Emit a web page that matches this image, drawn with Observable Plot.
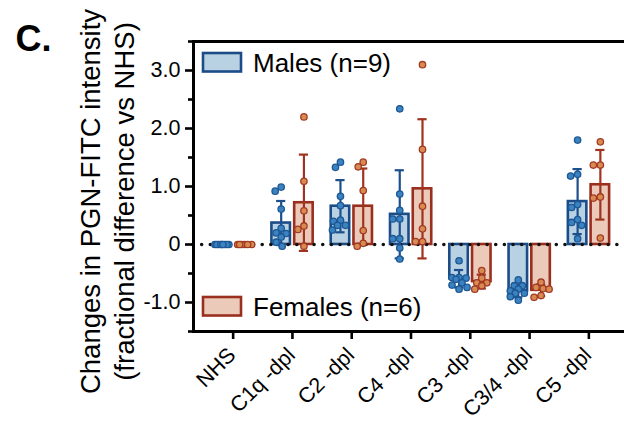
<!DOCTYPE html>
<html><head><meta charset="utf-8">
<script src="https://cdn.jsdelivr.net/npm/d3@7"></script>
<script src="https://cdn.jsdelivr.net/npm/@observablehq/plot@0.6"></script>
<style>
html,body{margin:0;padding:0;background:#fff;}
#chart svg{display:block;font-family:"Liberation Sans",Arial,Helvetica,sans-serif;}
</style>
</head><body><div id="chart"></div>
<script>
const categories = ["NHS", "C1q -dpl", "C2 -dpl", "C4 -dpl", "C3 -dpl", "C3/4 -dpl", "C5 -dpl"];
const maleMeans   = [0, 0.37, 0.66, 0.52, -0.59, -0.80, 0.74];
const maleSD      = [0, 0.38, 0.45, 0.76, 0.15, 0.11, 0.56];
const femaleMeans = [0, 0.72, 0.66, 0.96, -0.64, -0.79, 1.03];
const femaleSD    = [0, 0.83, 0.65, 1.20, 0.12, 0.10, 0.60];
const malePoints = [
  [0, 0, 0, 0, 0, 0, 0, 0, 0],
  [0.99, 0.92, 0.61, 0.28, 0.20, 0.19, 0.13, 0.04, -0.03],
  [1.42, 1.33, 0.83, 0.67, 0.42, 0.40, 0.33, 0.33, 0.25],
  [2.34, 0.87, 0.59, 0.44, 0.44, 0.10, 0.10, -0.06, -0.25],
  [-0.28, -0.57, -0.57, -0.58, -0.60, -0.66, -0.70, -0.74, -0.77],
  [-0.61, -0.71, -0.71, -0.77, -0.80, -0.84, -0.84, -0.90, -0.96],
  [1.80, 1.21, 1.18, 0.69, 0.64, 0.43, 0.38, 0.33, 0.10]
];
const femalePoints = [
  [0, 0, 0, 0, 0, 0],
  [2.20, 1.09, 0.58, 0.32, 0.26, -0.03],
  [1.42, 1.34, 0.93, 0.24, 0.02, -0.03],
  [3.10, 1.64, 0.66, 0.27, 0.05, 0.05],
  [-0.45, -0.58, -0.66, -0.66, -0.71, -0.77],
  [-0.65, -0.74, -0.76, -0.77, -0.88, -0.91],
  [1.77, 1.37, 1.37, 0.82, 0.80, 0.11]
];
const yTicks = [-1, 0, 1, 2, 3];
const yMinorTicks = [-1.5, -0.5, 0.5, 1.5, 2.5, 3.5];
const yDomain = [-1.5, 3.5];
const legendLabels = ["Males (n=9)", "Females (n=6)"];
const panelLabel = "C.";
const yTitle = "Changes in PGN-FITC intensity\n(fractional difference vs NHS)";

// layout
const W = 624, H = 424, mL = 193, mR = 0, mT = 41, mB = 93;
const inL = 10, inR = 6;
const step = (W - mL - mR - inL - inR) / categories.length;
const ypx = d3.scaleLinear(yDomain, [H - mB, mT]);

const FONT = '"Liberation Sans", Arial, Helvetica, sans-serif';
const sexes = [
  {means: maleMeans, sd: maleSD, pts: malePoints, off: -11.25,
   fill: "#b9d2e3", stroke: "#1b4c88", dotFill: "#3b82c0", dotStroke: "#1d5794", err: "#1d4f8c"},
  {means: femaleMeans, sd: femaleSD, pts: femalePoints, off: 11.5,
   fill: "#ebcab9", stroke: "#9a2f1f", dotFill: "#d98a50", dotStroke: "#a23a24", err: "#a0331f"}
];

// deterministic beeswarm-like horizontal spread (pixels)
function spread(vals) {
  const D = 6.6, maxOff = 8;
  const cands = [0];
  for (let k = 1; k <= maxOff; k++) cands.push(-k, k);
  const order = d3.range(vals.length).sort((a, b) => d3.descending(vals[a], vals[b]) || a - b);
  const placed = [], off = new Array(vals.length);
  for (const i of order) {
    const py = ypx(vals[i]);
    let best = 0, bestScore = -Infinity;
    for (const c of cands) {
      let md = Infinity;
      for (const p of placed) md = Math.min(md, Math.hypot(p.x - c, p.y - py));
      if (md >= D) { best = c; break; }
      if (md > bestScore + 1e-9) { bestScore = md; best = c; }
    }
    off[i] = best;
    placed.push({x: best, y: py});
  }
  return off;
}

const marks = [];
for (const s of sexes) {
  const bars = categories.map((c, i) => ({i, mean: s.means[i], sd: s.sd[i]}));
  const pts = [];
  categories.forEach((c, i) => {
    const offs = spread(s.pts[i]);
    s.pts[i].forEach((v, j) => pts.push({i, v, o: offs[j]}));
  });
  s.bars = bars; s.points = pts;
}
// bars
for (const s of sexes) {
  marks.push(Plot.rect(s.bars, {
    x1: d => d.i + (s.off - 9.25) / step, x2: d => d.i + (s.off + 9.25) / step,
    y1: 0, y2: d => d.mean, fill: s.fill, stroke: s.stroke, strokeWidth: 2.6
  }));
}
// zero line
marks.push(Plot.ruleY([0], {stroke: "#111", strokeWidth: 3.6, strokeDasharray: "0 8.65", strokeLinecap: "round"}));
// error bars
for (const s of sexes) {
  marks.push(Plot.ruleX(s.bars, {x: d => d.i + s.off / step, y1: d => d.mean - d.sd, y2: d => d.mean + d.sd, stroke: s.err, strokeWidth: 2.2}));
  for (const sign of [-1, 1]) {
    marks.push(Plot.ruleY(s.bars, {y: d => d.mean + sign * d.sd, x1: d => d.i + (s.off - 4.6) / step, x2: d => d.i + (s.off + 4.6) / step, stroke: s.err, strokeWidth: 2.2}));
  }
}
// points
for (const s of sexes) {
  marks.push(Plot.dot(s.points, {x: d => d.i + (s.off + d.o) / step, y: "v", r: 3.2, fill: s.dotFill, stroke: s.dotStroke, strokeWidth: 1.3}));
}
// frame lines
marks.push(Plot.ruleY([yDomain[1], yDomain[0]], {stroke: "#000", strokeWidth: 3}));
marks.push(Plot.frame({anchor: "left", stroke: "#000", strokeWidth: 3}));
// y axis
marks.push(Plot.axisY({ticks: yTicks, tickSize: 8, tickPadding: 5, strokeWidth: 2.6, fontSize: 21.5, fill: "#000", stroke: "#000",
  tickFormat: d => d === 0 ? "0" : d.toFixed(1), label: null}));
marks.push(Plot.axisY({ticks: yMinorTicks, tickSize: 5, strokeWidth: 2.6, stroke: "#000", tickFormat: () => "", label: null}));
// x axis ticks + labels
marks.push(Plot.axisX({ticks: d3.range(categories.length), tickSize: 8, strokeWidth: 2.6, stroke: "#000", tickFormat: () => "", label: null}));
marks.push(Plot.text(categories, {x: (d, i) => i, frameAnchor: "bottom", rotate: -45, textAnchor: "end", lineAnchor: "middle",
  dx: -1, dy: 20, fontSize: 21.5, fill: "#000"}));
// y title
marks.push(Plot.text([yTitle], {frameAnchor: "left", rotate: -90, textAnchor: "middle", lineAnchor: "middle", dx: -87, dy: 15, lineHeight: 1.24, fontSize: 27.5, fill: "#000"}));
// panel label
marks.push(Plot.text([panelLabel], {frameAnchor: "top-left", textAnchor: "start", lineAnchor: "bottom", dx: -178, dy: 9, fontSize: 36, fontWeight: "bold", fill: "#000"}));

const svgNode = Plot.plot({
  width: W, height: H, marginLeft: mL, marginRight: mR, marginTop: mT, marginBottom: mB,
  style: {fontFamily: FONT, background: "#fff", overflow: "visible"},
  x: {type: "linear", domain: [-0.5, categories.length - 0.5], insetLeft: inL, insetRight: inR},
  y: {domain: yDomain},
  marks
});
document.getElementById("chart").appendChild(svgNode);

// legend (inside the plot area)
const svg = d3.select(svgNode);
const legendY = [53, 297];
legendLabels.forEach((lab, k) => {
  const s = sexes[k];
  const g = svg.append("g").attr("transform", `translate(203,${legendY[k]})`);
  g.append("rect").attr("width", 38).attr("height", 18.5).attr("fill", s.fill).attr("stroke", s.stroke).attr("stroke-width", 2.6);
  g.append("text").attr("x", 50).attr("y", 18.5).attr("font-size", 26).attr("font-family", FONT)
    .attr("text-anchor", "start").attr("fill", "#000").text(lab);
});
</script>
</body></html>
